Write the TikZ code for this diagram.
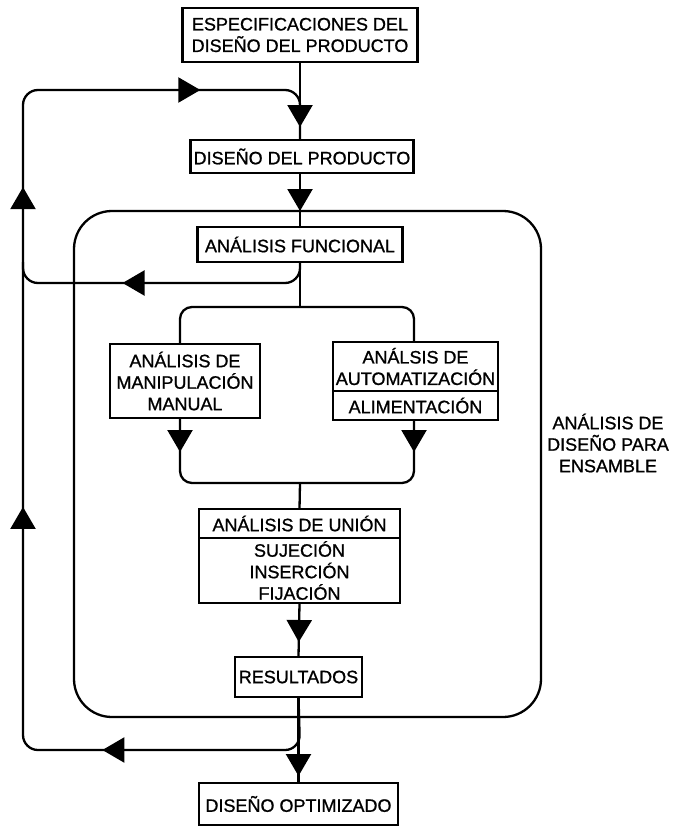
\documentclass[tikz,border=0pt]{standalone}
\usepackage{fontspec}
\setmainfont[FakeBold=1]{Liberation Sans}
\usetikzlibrary{positioning, calc, arrows.meta, decorations.markings}

\tikzset{
  texto/.style={align=center, font=\fontsize{18}{21.5}\selectfont},
  caja/.style={texto, draw, line width=2.3pt, inner sep=2pt, outer sep=0pt},
  punta/.style={postaction={decorate, decoration={markings,
      mark=at position #1 with {\arrow{Triangle[length=22pt,width=25pt]}}}}}
}

\begin{document}
\begin{tikzpicture}[x=1pt, y=-1pt, line width=2.3pt]
    \useasboundingbox (0,0) rectangle (675,827);

    % --- Marco del analisis de ensamble ---
    \draw[rounded corners=38pt] (74,211) rectangle (541,717);
    \node[texto] (etiqueta) at (608,443) {ANÁLISIS DE\\DISEÑO PARA\\ENSAMBLE};

    % --- Cajas ---
    \node[caja, minimum width=235pt, minimum height=54pt] (espec) at (300,35) {ESPECIFICACIONES DEL\\DISEÑO DEL PRODUCTO};
    \node[caja, minimum width=223pt, minimum height=33pt] (diseno) at (302,156.5) {DISEÑO DEL PRODUCTO};
    \node[caja, minimum width=205pt, minimum height=35pt] (funcional) at (300,244.5) {ANÁLISIS FUNCIONAL};

    \node[caja, minimum width=150pt, minimum height=74pt] (manual) at (185,381) {ANÁLISIS DE\\MANIPULACIÓN\\MANUAL};
    \node[caja, minimum width=165pt, minimum height=49pt] (autoA) at (415.5,366.5) {ANÁLSIS DE\\AUTOMATIZACIÓN};
    \node[caja, minimum width=165pt, minimum height=29pt, below=0pt of autoA] (autoB) {ALIMENTACIÓN};

    \node[caja, minimum width=201pt, minimum height=29pt] (unionA) at (299.5,523.5) {ANÁLISIS DE UNIÓN};
    \node[caja, minimum width=201pt, minimum height=65pt, below=0pt of unionA] (unionB) {SUJECIÓN\\INSERCIÓN\\FIJACIÓN};

    \node[caja, minimum width=127pt, minimum height=40pt, inner sep=0pt] (resultados) at (298.5,677) {RESULTADOS};
    \node[caja, minimum width=199pt, minimum height=42pt] (optimizado) at (298.5,804) {DISEÑO OPTIMIZADO};

    % --- Flujo principal ---
    \coordinate (rama) at (300,307);
    \coordinate (junta) at (300,483);
    \draw[punta=65pt] (espec.south) -- (espec.south |- diseno.north);
    \draw[punta=38pt] (diseno.south -| funcional.north) -- (funcional.north);
    \draw (funcional.south) -- (rama);
    \draw[rounded corners=12pt] ([xshift=-5pt]manual.north) |- (rama) -| ([xshift=-1.5pt]autoA.north);
    \draw[rounded corners=12pt, punta=34pt] ([xshift=-5pt]manual.south) |- (junta);
    \draw[rounded corners=12pt, punta=32pt] ([xshift=-1.5pt]autoB.south) |- (junta);
    \draw (junta) -- (unionA.north);
    \draw[punta=39pt] (unionB.south) -- (resultados.north);
    \draw[punta=79pt] (resultados.south) -- (optimizado.north);

    % --- Retroalimentacion ---
    \draw[rounded corners=15pt, punta=192pt, punta=381pt, punta=649pt]
        (funcional.south) -- (300,283) -- (23,283) -- (23,90) -- (300,90) -- (espec.south |- diseno.north);
    \draw[rounded corners=15pt, punta=244pt, punta=560pt]
        (resultados.south) -- (300,750) -- (23,750) -- (23,262);

\end{tikzpicture}
\end{document}
